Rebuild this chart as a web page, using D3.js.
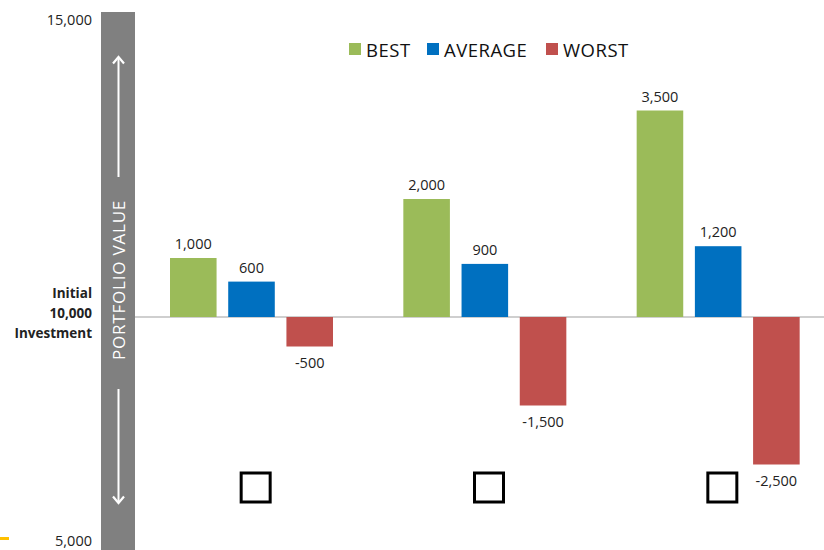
<!DOCTYPE html>
<html>
<head>
<meta charset="utf-8">
<script src="https://cdn.jsdelivr.net/npm/d3@7"></script>
<style>
  body { margin: 0; background: #fff; }
  svg { display: block; font-family: "Open Sans", "Noto Sans", sans-serif; }
</style>
</head>
<body>
<svg width="824" height="550"></svg>
<script>
var groups = ["g1", "g2", "g3"];
var seriesNames = ["BEST", "AVERAGE", "WORST"];
var bestValues = [1000, 2000, 3500];
var averageValues = [600, 900, 1200];
var worstValues = [-500, -1500, -2500];
var colors = ["#9bbb59", "#0070c0", "#c0504d"];
var tickValues = [15000, 10000, 5000];
var tickLabels = ["15,000", "Initial|10,000|Investment", "5,000"];

var svg = d3.select("svg");
var fmt = function(v) { return d3.format(",")(v).replace("\u2212", "-"); };

// value scale (deviation from initial 10,000)
var yScale = d3.scaleLinear().domain([-5000, 5000]).range([612, 22]);
var y0 = yScale(0);
// axis labels sit at top / bottom of the band, so use their own scale
var tickScale = d3.scaleLinear().domain([5000, 10000, 15000]).range([541, y0, 20]);

var xScale = d3.scaleBand().domain(groups).range([135, 835]).padding(0);
var xInner = d3.scaleBand().domain(seriesNames).range([35, 198]).paddingInner(0.2).paddingOuter(0);

var rows = [];
groups.forEach(function(g, i) {
  [bestValues[i], averageValues[i], worstValues[i]].forEach(function(v, j) {
    rows.push({ group: g, series: seriesNames[j], value: v, color: colors[j] });
  });
});

// gray band on the left
svg.append("rect").attr("x", 101).attr("y", 12).attr("width", 34).attr("height", 538).attr("fill", "#808080");

var ax = 118.5;
function arrow(yTail, yTip) {
  var dir = yTip < yTail ? 1 : -1;
  svg.append("line").attr("x1", ax).attr("x2", ax).attr("y1", yTail).attr("y2", yTip + dir * 1)
    .attr("stroke", "#fff").attr("stroke-width", 2);
  svg.append("path")
    .attr("d", "M" + (ax - 5.5) + "," + (yTip + dir * 6.5) + " L" + ax + "," + yTip + " L" + (ax + 5.5) + "," + (yTip + dir * 6.5))
    .attr("fill", "none").attr("stroke", "#fff").attr("stroke-width", 2.2);
}
arrow(177, 57);
arrow(389, 503);

svg.append("text")
  .attr("transform", "translate(" + (ax + 6) + ",280) rotate(-90)")
  .attr("text-anchor", "middle")
  .attr("fill", "#fff")
  .attr("font-size", 17)
  .attr("letter-spacing", 0.8)
  .text("PORTFOLIO VALUE");

// zero line
svg.append("line").attr("x1", 135).attr("x2", 824).attr("y1", y0).attr("y2", y0)
  .attr("stroke", "#bfbfbf").attr("stroke-width", 1.5);

// left labels
tickValues.forEach(function(t, i) {
  var parts = tickLabels[i].split("|");
  var txt = svg.append("text").attr("text-anchor", "end").attr("fill", "#222");
  if (parts.length === 1) {
    txt.attr("x", 92).attr("y", tickScale(t) + 5).attr("font-size", 14.5).text(parts[0]);
  } else {
    txt.attr("font-weight", "bold").attr("font-size", 13.5);
    parts.forEach(function(p, k) {
      txt.append("tspan").attr("x", 92).attr("y", tickScale(t) + 1 + (k - 1) * 20).text(p);
    });
  }
});

// bars
var g = svg.append("g");
g.selectAll("rect.bar").data(rows).enter().append("rect")
  .attr("class", "bar")
  .attr("x", function(d) { return xScale(d.group) + xInner(d.series); })
  .attr("y", function(d) { return yScale(Math.max(0, d.value)); })
  .attr("width", xInner.bandwidth())
  .attr("height", function(d) { return Math.abs(yScale(d.value) - y0); })
  .attr("fill", function(d) { return d.color; });

g.selectAll("text.val").data(rows).enter().append("text")
  .attr("class", "val")
  .attr("x", function(d) { return xScale(d.group) + xInner(d.series) + xInner.bandwidth() / 2; })
  .attr("y", function(d) { return d.value >= 0 ? yScale(d.value) - 9 : yScale(d.value) + 21; })
  .attr("text-anchor", "middle")
  .attr("font-size", 14.5)
  .attr("fill", "#222")
  .text(function(d) { return fmt(d.value); });

// checkboxes under each group
svg.selectAll("rect.box").data(groups).enter().append("rect")
  .attr("class", "box")
  .attr("x", function(d) { return xScale(d) + xScale.bandwidth() / 2 + 4 - 14.5; })
  .attr("y", 473)
  .attr("width", 29).attr("height", 29)
  .attr("fill", "#fff").attr("stroke", "#000").attr("stroke-width", 3);

// legend
var legendX = [349, 427, 546];
var legend = svg.selectAll("g.leg").data(seriesNames).enter().append("g")
  .attr("class", "leg")
  .attr("transform", function(d, i) { return "translate(" + legendX[i] + ",43)"; });
legend.append("rect").attr("width", 12).attr("height", 12).attr("fill", function(d, i) { return colors[i]; });
legend.append("text").attr("x", 17).attr("y", 13.5).attr("font-size", 18.5).attr("letter-spacing", 0.5)
  .attr("fill", "#111").text(function(d) { return d; });

// small yellow mark bottom-left
svg.append("rect").attr("x", 0).attr("y", 537).attr("width", 9).attr("height", 3).attr("fill", "#ffc000");
</script>
</body>
</html>
